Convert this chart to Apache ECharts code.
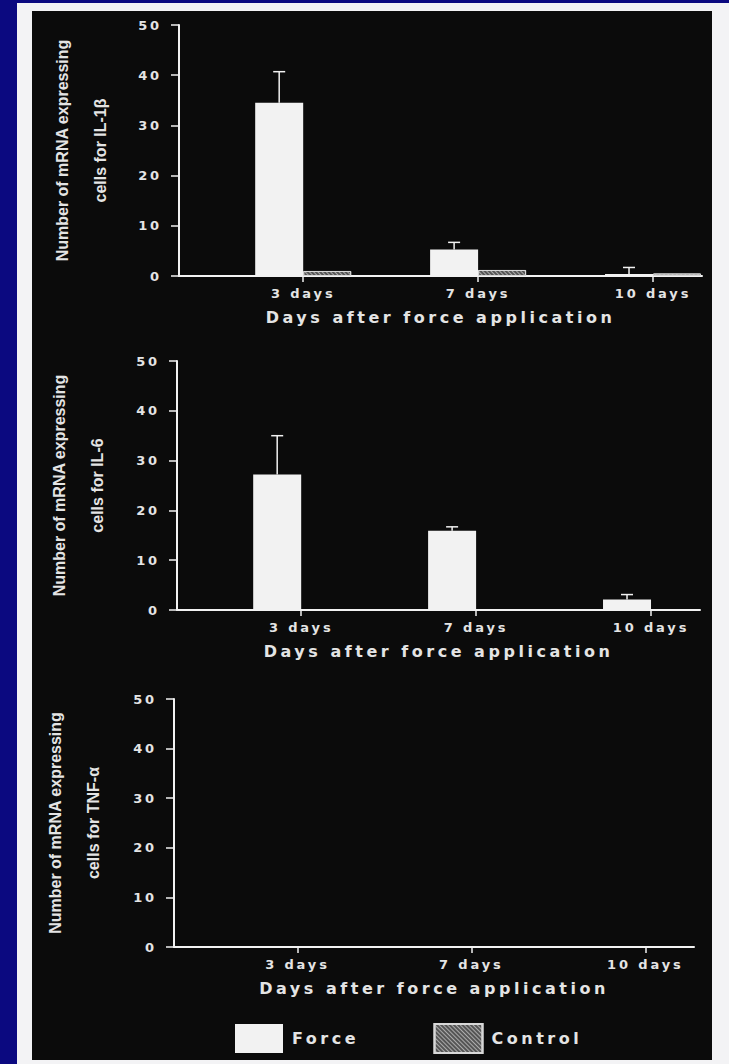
<!DOCTYPE html>
<html><head><meta charset="utf-8">
<script src="https://cdn.jsdelivr.net/npm/echarts@6/dist/echarts.min.js"></script>
<style>
html,body{margin:0;padding:0;background:#0b0980;overflow:hidden;}
#chart{width:729px;height:1064px;}
#chart text[style*="DejaVu"]{letter-spacing:0.22em;}
</style></head><body><div id="chart"></div>
<script>
// ---- data ----
const categories = ['3 days', '7 days', '10 days'];
const categoryPositions = [1, 2, 3];
const seriesNames = ['Force', 'Control'];
const xAxisTitle = 'Days after force application';

const il1bForce = [34.5, 5.3, 0.4];
const il1bForceErr = [6.2, 1.4, 1.3];
const il1bControl = [1.0, 1.2, 0.5];

const il6Force = [27.2, 15.9, 2.1];
const il6ForceErr = [7.8, 0.8, 1.0];
const il6Control = [0, 0, 0];

const tnfForce = [0, 0, 0];
const tnfForceErr = [0, 0, 0];
const tnfControl = [0, 0, 0];

const panelTitles = [
  'Number of mRNA expressing\ncells for IL-1β',
  'Number of mRNA expressing\ncells for IL-6',
  'Number of mRNA expressing\ncells for TNF-α'
];

// ---- layout / style ----
const panels = [
  { force: il1bForce, err: il1bForceErr, control: il1bControl, grid: { left: 179, top: 25, width: 523, height: 251 }, ctrlBorder: 1, nameGap: 60 },
  { force: il6Force, err: il6ForceErr, control: il6Control, grid: { left: 177, top: 361, width: 523, height: 249 }, ctrlBorder: 0, nameGap: 61 },
  { force: tnfForce, err: tnfForceErr, control: tnfControl, grid: { left: 174, top: 699, width: 520, height: 248 }, ctrlBorder: 0, nameGap: 62 }
];
const BAR_W = 48;
const WHITE = '#f2f2f2';
const TEXT = '#e4e4e4';
const spacedFont = { fontFamily: 'DejaVu Sans', fontWeight: 'bold' };

const grids = [], xAxes = [], yAxes = [], series = [];
panels.forEach((p, i) => {
  grids.push(Object.assign({ outerBoundsMode: 'none', containLabel: false }, p.grid));
  xAxes.push({
    type: 'value', gridIndex: i, min: 0.29, max: 3.28,
    axisLine: { show: true, onZero: false, lineStyle: { color: WHITE, width: 2 } },
    axisTick: { show: true, customValues: categoryPositions, length: 6, lineStyle: { color: WHITE, width: 1.5 } },
    axisLabel: Object.assign({ customValues: categoryPositions, formatter: v => categories[categoryPositions.indexOf(v)], margin: 11, color: TEXT, fontSize: 13 }, spacedFont),
    splitLine: { show: false },
    name: xAxisTitle, nameLocation: 'middle', nameGap: 33,
    nameTextStyle: Object.assign({ color: TEXT, fontSize: 16 }, spacedFont)
  });
  yAxes.push({
    type: 'value', gridIndex: i, min: 0, max: 50, interval: 10,
    axisLine: { show: true, onZero: false, lineStyle: { color: WHITE, width: 2 } },
    axisTick: { show: true, length: 8, lineStyle: { color: WHITE, width: 1.5 } },
    axisLabel: Object.assign({ margin: 17, color: TEXT, fontSize: 13 }, spacedFont),
    splitLine: { show: false },
    name: panelTitles[i], nameLocation: 'middle', nameRotate: 90, nameGap: p.nameGap,
    nameTextStyle: { fontFamily: 'Liberation Sans', fontWeight: 'bold', fontSize: 16, lineHeight: 38, color: TEXT, align: 'center' }
  });
  series.push({
    type: 'bar', name: seriesNames[0], xAxisIndex: i, yAxisIndex: i,
    barWidth: BAR_W, barGap: '0%',
    itemStyle: { color: WHITE },
    data: categoryPositions.map((x, j) => [x, p.force[j]])
  });
  series.push({
    type: 'bar', name: seriesNames[1], xAxisIndex: i, yAxisIndex: i,
    barWidth: BAR_W, barGap: '0%',
    itemStyle: {
      color: '#555555', borderColor: '#d8d8d8', borderWidth: p.ctrlBorder,
      decal: { symbol: 'rect', symbolSize: 1, color: 'rgba(200,200,200,0.75)', dashArrayX: [1, 0], dashArrayY: [1, 2], rotation: Math.PI / 4 }
    },
    data: categoryPositions.map((x, j) => [x, p.control[j]])
  });
  series.push({
    type: 'custom', xAxisIndex: i, yAxisIndex: i, silent: true, z: 5,
    data: categoryPositions.map((x, j) => [x, p.force[j], p.err[j]]),
    encode: { x: 0, y: 1 },
    renderItem: (params, api) => {
      const x = api.value(0), v = api.value(1), e = api.value(2);
      if (!e) return null;
      const b = api.coord([x, v]);
      const t = api.coord([x, v + e]);
      const cx = b[0] - BAR_W / 2;
      const st = { stroke: WHITE, lineWidth: 1.5 };
      return { type: 'group', children: [
        { type: 'line', shape: { x1: cx, y1: b[1], x2: cx, y2: t[1] }, style: st },
        { type: 'line', shape: { x1: cx - 6, y1: t[1], x2: cx + 6, y2: t[1] }, style: st }
      ] };
    }
  });
});

const chart = echarts.init(document.getElementById('chart'), null, { renderer: 'svg' });
chart.setOption({
  animation: false,
  backgroundColor: '#0b0980',
  graphic: [
    { type: 'rect', z: -10, silent: true, shape: { x: 17, y: 3, width: 712, height: 1061 }, style: { fill: '#f3f3f5' } },
    { type: 'rect', z: -9, silent: true, shape: { x: 32, y: 11, width: 680, height: 1049 }, style: { fill: '#0b0b0b' } }
  ],
  grid: grids, xAxis: xAxes, yAxis: yAxes, series: series,
  legend: {
    data: seriesNames, left: 235, top: 1023, orient: 'horizontal', padding: 0,
    itemWidth: 48, itemHeight: 29, itemGap: 92, icon: 'rect',
    textStyle: Object.assign({ color: TEXT, fontSize: 16, padding: [0, 0, 0, 4] }, spacedFont),
    selectedMode: false
  }
});
</script></body></html>
